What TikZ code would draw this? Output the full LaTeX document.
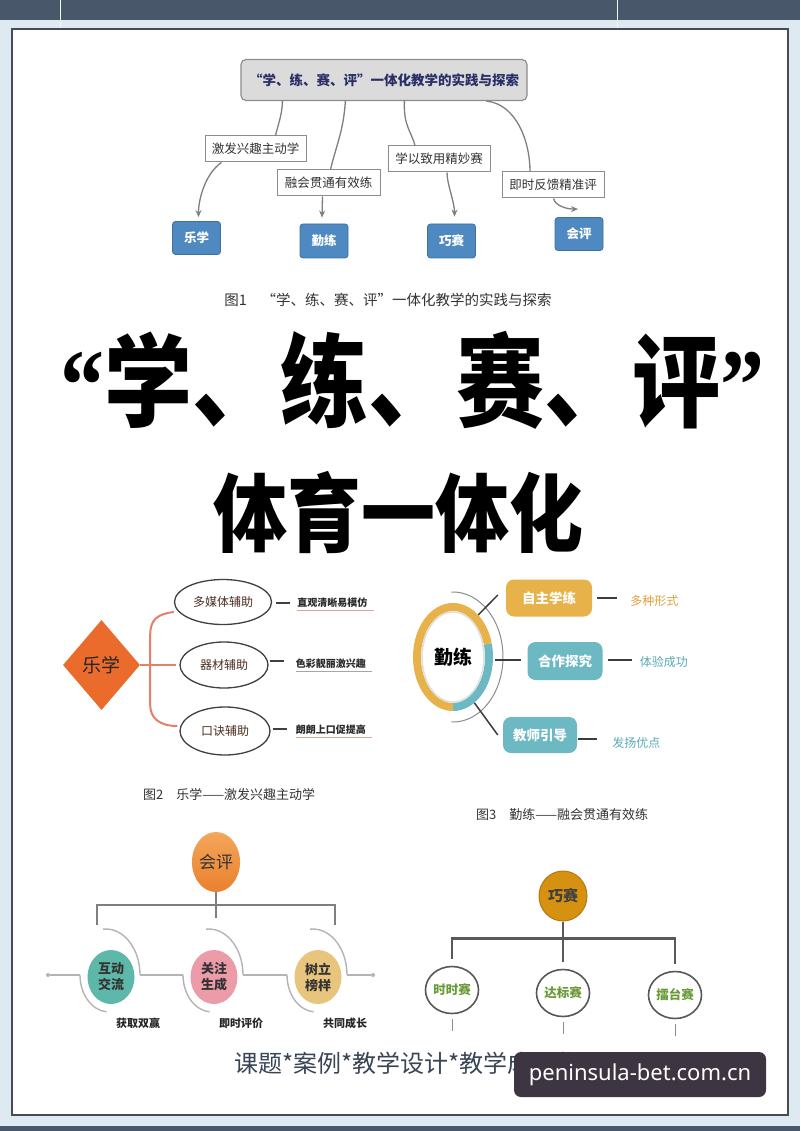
\documentclass[tikz,border=0pt]{standalone}
\usepackage{fontspec}
\usepackage{graphicx}
\usetikzlibrary{shapes.geometric,arrows.meta,calc}
\setmainfont{Noto Sans CJK SC}
\newfontfamily\lserif{Liberation Serif}
\newfontfamily\wmfont{Noto Sans}
\newcommand{\myfs}[1]{\fontsize{#1}{#1}\selectfont}
\definecolor{bgc}{HTML}{DFE9F2}
\definecolor{topc}{HTML}{485769}
\definecolor{framec}{HTML}{454C56}
\definecolor{navyt}{HTML}{2A2E66}
\definecolor{lboxd}{HTML}{8C8C8C}
\definecolor{bluef}{HTML}{4F89C1}
\definecolor{blued}{HTML}{3D6F9F}
\definecolor{connc}{HTML}{7B7F86}
\definecolor{dorange}{HTML}{EA6B2C}
\definecolor{brkc}{HTML}{E2806A}
\definecolor{ellt}{HTML}{4A2E20}
\definecolor{sidec}{HTML}{2A2A2A}
\definecolor{ulc}{HTML}{D9A894}
\definecolor{korange}{HTML}{E8B24A}
\definecolor{kteal}{HTML}{6CB8C3}
\definecolor{ktor}{HTML}{E2A03A}
\definecolor{ktte}{HTML}{5AAAB6}
\definecolor{klinec}{HTML}{3C3C3C}
\definecolor{hot}{HTML}{F4A65A}
\definecolor{hob}{HTML}{E9802E}
\definecolor{hteal}{HTML}{5DB8A9}
\definecolor{hpink}{HTML}{EC9BA9}
\definecolor{htan}{HTML}{E7C57C}
\definecolor{harcc}{HTML}{B4B4B4}
\definecolor{treec}{HTML}{7F7F7F}
\definecolor{qsf}{HTML}{D5910F}
\definecolor{qsd}{HTML}{B57812}
\definecolor{sdraw}{HTML}{585858}
\definecolor{sgreen}{HTML}{6A9A38}
\definecolor{btc}{HTML}{394555}
\definecolor{wmc}{HTML}{3E3542}
\begin{document}
\begin{tikzpicture}[x=1pt,y=-1pt,
  topbox/.style={draw=lboxd, fill=gray!28, rounded corners=5, line width=1.2, minimum width=286, minimum height=41, inner sep=0, text=navyt, font=\myfs{13.5}\bfseries},
  lbox/.style={draw=lboxd, fill=white, line width=1, minimum width=101, minimum height=26, inner sep=0, font=\myfs{12.5}, text=black!80},
  bbox/.style={fill=bluef, draw=blued, line width=0.8, rounded corners=3, minimum width=48, minimum height=33, inner sep=0, font=\myfs{12.5}\bfseries, text=white},
  conn/.style={draw=connc, line width=1.3},
  arr/.style={conn, -{Stealth[length=7,width=6]}},
  capt/.style={font=\myfs{14.5}, text=black!80, inner sep=0},
  ell/.style={ellipse, draw=black!75, line width=1.3, fill=white, inner sep=0, font=\myfs{12}, text=ellt},
  brk/.style={draw=brkc, line width=2},
  side/.style={font=\myfs{10}\bfseries, text=sidec, inner xsep=0, inner ysep=2},
  dashl/.style={draw=black!75, line width=1.2},
  kbox/.style={rounded corners=8, inner sep=0, text=white, font=\myfs{13.5}\bfseries},
  kline/.style={draw=klinec, line width=1.5},
  side2/.style={font=\myfs{12}, inner sep=0, anchor=west},
  hnode/.style={ellipse, inner sep=0, minimum width=47, minimum height=54, align=center, font=\fontsize{13}{16}\selectfont\bfseries, text=black!80},
  harc/.style={draw=harcc, line width=1.4},
  hlab/.style={font=\myfs{11}\bfseries, text=black!85, inner sep=0},
  tree/.style={draw=treec, line width=2},
  tree2/.style={draw=black!65, line width=2.5},
  snode/.style={ellipse, draw=sdraw, line width=1.6, fill=white, inner sep=0, minimum width=47, minimum height=47, font=\myfs{12.5}\bfseries, text=sgreen},
  dotnode/.style={circle, fill=harcc, inner sep=0, minimum size=4}
]
\useasboundingbox (0,0) rectangle (800,1131);
% background
\fill[bgc] (0,0) rectangle (800,1131);
\fill[topc] (0,0) rectangle (800,20);
\fill[topc] (0,1126) rectangle (800,1131);
\draw[white!70!bgc, line width=1] (60,0) -- (60,29) (617,0) -- (617,29);
\draw[framec, line width=1.3, fill=white] (12,29) rectangle (788,1115);

% ---------- Figure 1 ----------
\node[topbox] (t) at (384,80) {“学、练、赛、评”一体化教学的实践与探索};
\node[lbox] (l1) at (255.5,149) {激发兴趣主动学};
\node[lbox, minimum width=103] (l2) at (328.5,183) {融会贯通有效练};
\node[lbox, minimum width=102] (l3) at (439,159) {学以致用精妙赛};
\node[lbox, minimum width=102] (l4) at (553,185) {即时反馈精准评};
\node[bbox] (b1) at (196.5,238) {乐学};
\node[bbox, minimum height=34] (b2) at (324,241) {勤练};
\node[bbox, minimum height=34] (b3) at (451.5,241) {巧赛};
\node[bbox] (b4) at (579,234) {会评};
\draw[conn] ($(t.south west)+(42,0)$) .. controls +(0,12) and +(3,-12) .. ($(l1.north)+(20,0)$);
\draw[conn] ($(t.south west)+(105,0)$) .. controls +(-2,30) and +(6,-25) .. ($(l2.north)+(2,0)$);
\draw[conn] ($(t.south west)+(164,0)$) .. controls +(-1,25) and +(-4,-15) .. ($(l3.north)+(-24,0)$);
\draw[conn] ($(t.south west)+(246,0)$) .. controls +(30,3) and +(0,-30) .. ($(l4.north)+(-23,0)$);
\draw[arr] ($(l1.south west)+(17,0)$) .. controls +(-15,10) and +(0,-20) .. ($(b1.north)+(2,-4)$);
\draw[arr] ($(l2.south)+(-6,0)$) -- ($(b2.north)+(-2,-6)$);
\draw[arr] ($(l3.south)+(8,0)$) .. controls +(0,12) and +(0,-15) .. ($(b3.north)+(3,-7)$);
\draw[arr] ($(l4.south west)+(52,0)$) .. controls +(2,8) and +(-10,0) .. ($(b4.north)+(-1,-8)$);
\node[capt] (c1) at (388,300) {图1\hspace{1em}“学、练、赛、评”一体化教学的实践与探索};

% ---------- Titles ----------
\node[inner sep=0, font=\myfs{88}\bfseries] (title1) at (412,380) {\scalebox{1}[1.15]{{\lserif “}学、练、赛、评{\lserif ”}}};
\node[inner sep=0, font=\myfs{74}\bfseries] (title2) at (398,512) {\scalebox{1}[1.15]{体育一体化}};

% ---------- Figure 2 ----------
\node[diamond, fill=dorange, minimum width=77, minimum height=90, inner sep=0, font=\myfs{19}, text=black!85] (lx) at (101.5,665) {乐学};
\node[ell, minimum width=97, minimum height=45] (e1) at (223,602) {多媒体辅助};
\node[ell, minimum width=88, minimum height=46] (e2) at (224,665) {器材辅助};
\node[ell, minimum width=90, minimum height=48] (e3) at (225,731) {口诀辅助};
\draw[brk] (lx.east) -- ($(e2.west)+(-3,0)$);
\draw[brk] ($(e1.west)+(0,10)$) .. controls +(-17,2) and +(0,-15) .. ($(lx.east)+(10,-30)$) -- ($(lx.east)+(10,40)$) .. controls +(0,13) and +(-18,0) .. ($(e3.west)+(-2,-5)$);
\draw[dashl] ($(e1.east)+(4,1)$) -- ++(14,0);
\node[side, anchor=west] (s1) at ($(e1.east)+(25,1)$) {直观清晰易模仿};
\draw[ulc, line width=1] (s1.south west) -- ($(s1.south east)+(6,0)$);
\draw[dashl] ($(e2.east)+(1,-4)$) -- ++(14,0);
\node[side, anchor=west] (s2) at ($(e2.east)+(27,-1)$) {色彩靓丽激兴趣};
\draw[black!35, line width=1] (s2.south west) -- ($(s2.south east)+(6,0)$);
\draw[dashl] ($(e3.east)+(2,-2)$) -- ++(14,0);
\node[side, anchor=west] (s3) at ($(e3.east)+(25,-1)$) {朗朗上口促提高};
\draw[ulc, line width=1] (s3.south west) -- ($(s3.south east)+(6,0)$);
\node[capt, font=\myfs{13}, anchor=west] (c2) at (143,795) {图2\hspace{1em}乐学——激发兴趣主动学};

% ---------- Figure 3 ----------
\node[ellipse, minimum width=80, minimum height=108, inner sep=0] (ring) at (453,657) {};
\draw[line width=8, kteal] ($(ring.center)+(-15:36 and 50)$) arc[start angle=-15, end angle=90, x radius=36, y radius=50];
\draw[line width=8, korange] ($(ring.center)+(90:36 and 50)$) arc[start angle=90, end angle=345, x radius=36, y radius=50];
\node[ellipse, fill=white, draw=black!12, line width=1.5, minimum width=62, minimum height=90, inner sep=0, font=\myfs{19}\bfseries] (ql) at (ring.center) {勤练};
\draw[black!45, line width=1] ($(ring.center)+(-92:50 and 65)$) arc[start angle=-92, end angle=92, x radius=50, y radius=65];
\node[kbox, fill=korange, minimum width=86, minimum height=37] (k1) at (549,598) {自主学练};
\node[kbox, fill=kteal, minimum width=75, minimum height=38] (k2) at (565,661) {合作探究};
\node[kbox, fill=kteal, minimum width=74, minimum height=36] (k3) at (540,735) {教师引导};
\draw[kline] (ring.59) -- ($(k1.west)+(-8,-3)$);
\draw[kline] ($(ring.east)+(2,3)$) -- ($(k2.west)+(-6,-1)$);
\draw[kline] (ring.-65) -- ($(k3.west)+(-5,0)$);
\draw[kline] ($(k1.east)+(5,0)$) -- ++(20,0);
\node[side2, text=ktor] (r1) at ($(k1.east)+(38,3)$) {多种形式};
\draw[kline] ($(k2.east)+(5,-1)$) -- ++(24,0);
\node[side2, text=ktte] (r2) at ($(k2.east)+(37,1)$) {体验成功};
\draw[kline] ($(k3.east)+(1,4)$) -- ++(19,0);
\node[side2, text=ktte] (r3) at ($(k3.east)+(35,8)$) {发扬优点};
\node[capt, font=\myfs{13}, anchor=west] (c3) at (476,815) {图3\hspace{1em}勤练——融会贯通有效练};

% ---------- Figure 4 ----------
\node[ellipse, top color=hot, bottom color=hob, minimum width=48, minimum height=60, inner sep=0, font=\myfs{17}, text=black!80] (hp) at (216,862) {会评};
\node[hnode, fill=hteal] (h1) at (111,977) {互动\\交流};
\node[hnode, fill=hpink] (h2) at (214,977) {关注\\生成};
\node[hnode, fill=htan] (h3) at (318,977) {树立\\榜样};
\draw[tree] ($(h1.north)+(-14,-25)$) |- ($(hp.south)+(0,13)$) -| ($(h3.north)+(17,-25)$);
\draw[tree] (hp.south) -- ++(0,26);
\foreach \h in {h1,h2,h3}{
  \draw[harc] ($(\h.center)+(-5,-2)+(-95:34 and 46)$) arc[start angle=-95, end angle=0, x radius=34, y radius=46];
  \draw[harc] ($(\h.center)+(-2,-2)+(180:29 and 37)$) arc[start angle=180, end angle=95, x radius=29, y radius=37];
}
\node[dotnode] (dl) at (48,975) {};
\node[dotnode] (dr) at (373,975) {};
\draw[harc] (dl) -- ($(h1.center)+(-31,-2)$);
\draw[harc] ($(h1.center)+(29,-2)$) -- ($(h2.center)+(-31,-2)$);
\draw[harc] ($(h2.center)+(29,-2)$) -- ($(h3.center)+(-31,-2)$);
\draw[harc] ($(h3.center)+(29,-2)$) -- (dr);
\node[hlab] (g1) at ($(h1.center)+(27,46)$) {获取双赢};
\node[hlab] (g2) at ($(h2.center)+(27,46)$) {即时评价};
\node[hlab] (g3) at ($(h3.center)+(27,46)$) {共同成长};

% ---------- Figure 5 ----------
\node[ellipse, fill=qsf, draw=qsd, line width=1, minimum width=48, minimum height=50, inner sep=0, font=\myfs{15}\bfseries, text=black!75] (qs) at (563,896) {巧赛};
\node[snode] (q1) at (452,990) {时时赛};
\node[snode] (q2) at (563,993) {达标赛};
\node[snode] (q3) at (675,995) {擂台赛};
\draw[tree2] (qs.south) -- ($(q2.north)+(0,-7)$);
\draw[tree2] ($(q1.north)+(0,-7)$) |- ($(qs.south)+(0,17)$) -| ($(q3.north)+(0,-7)$);
\foreach \q in {q1,q2,q3}{
  \draw[black!45, line width=1] ($(\q.south)+(0,5)$) -- ++(0,12);
}

% ---------- Footer ----------
\node[inner sep=0, font=\myfs{24}, text=btc] (bt) at (407,1063) {课题*案例*教学设计*教学成果奖};
\node[fill=wmc, rounded corners=7, minimum width=252, minimum height=45, inner sep=0, text=white, font=\wmfont\myfs{22}] (wm) at (640,1074.5) {peninsula-bet.com.cn};
\end{tikzpicture}
\end{document}
